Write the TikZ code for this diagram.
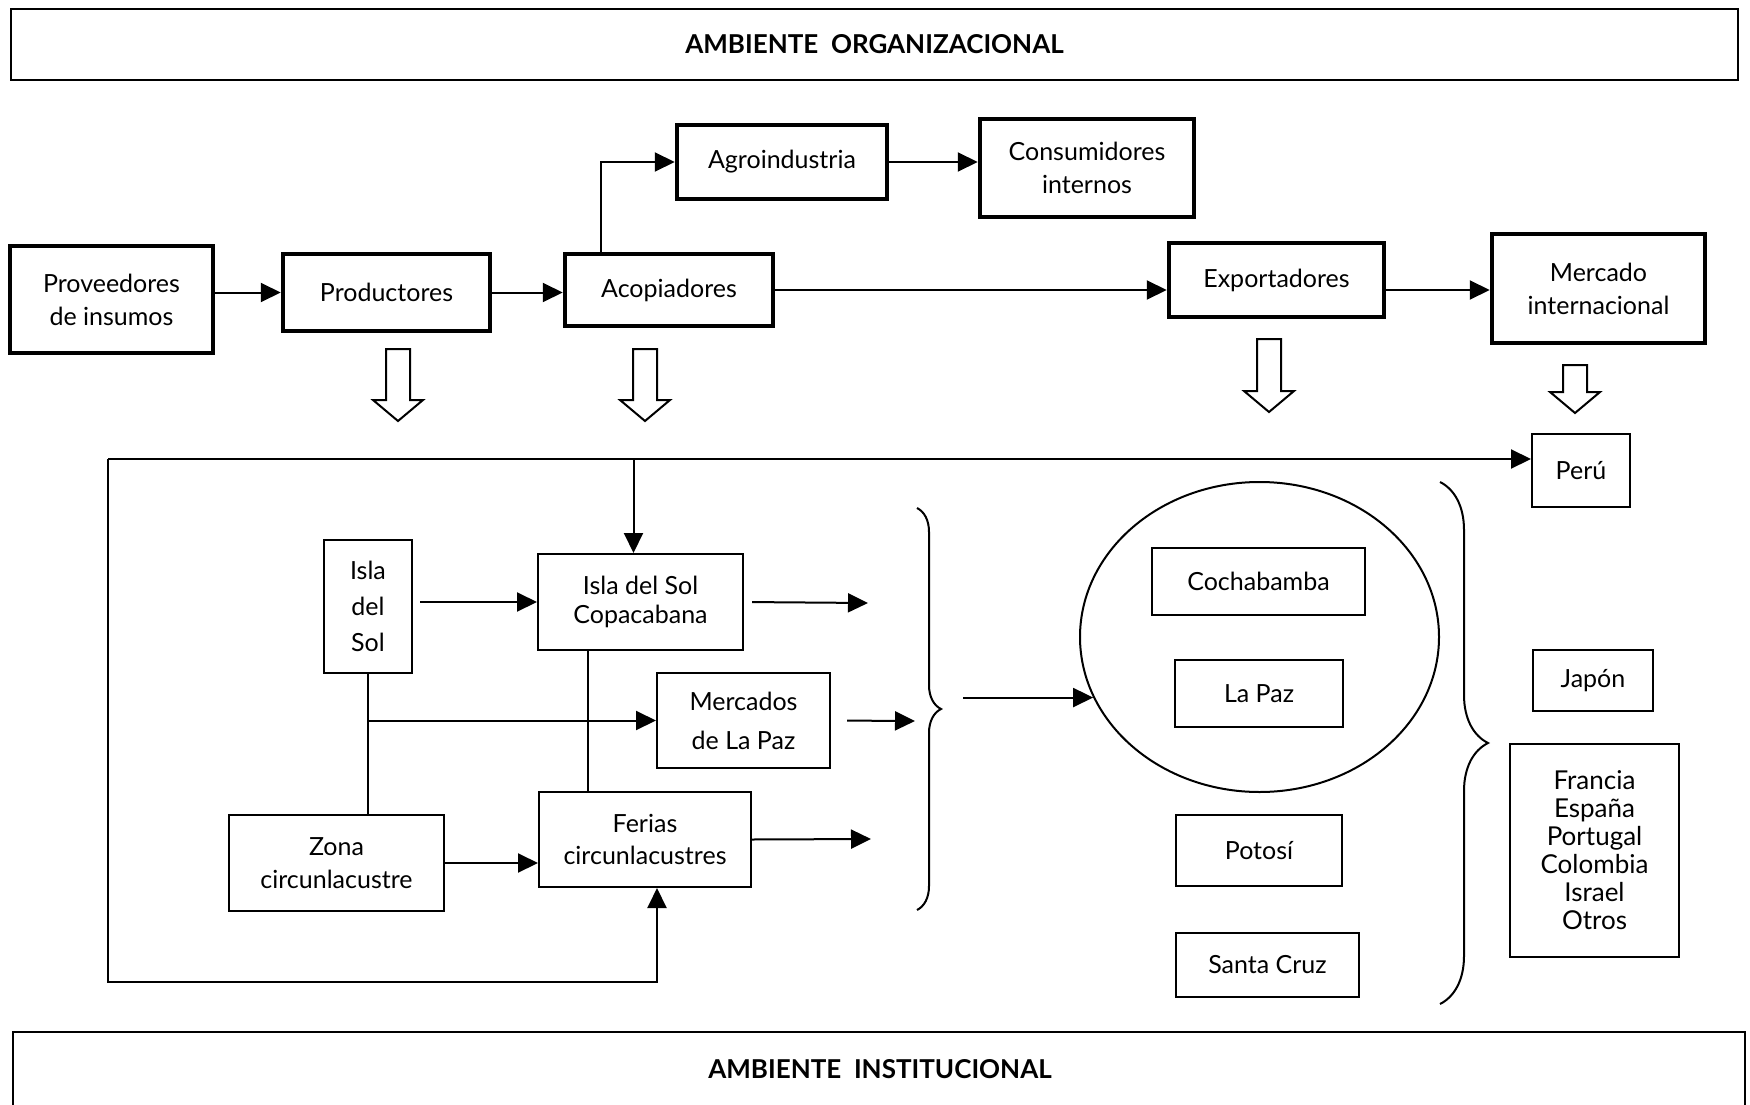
\documentclass[tikz,border=0pt]{standalone}
\usepackage{fontspec}
\setmainfont{Lato}
\usetikzlibrary{arrows.meta,shapes.geometric,decorations.pathreplacing}
\newcommand\hollowdown[3]{%
  \draw[hollow] (#1-12,#2) -- (#1+12,#2) -- (#1+12,#3-21) -- (#1+25,#3-21)
    -- (#1,#3) -- (#1-25,#3-21) -- (#1-12,#3-21) -- cycle;}
\begin{document}
\begin{tikzpicture}[x=1pt,y=-1pt,
  txt/.style={font=\fontsize{25}{33}\selectfont, align=center, inner sep=0pt},
  bigbox/.style={txt, draw, line width=4.5pt},
  smallbox/.style={txt, draw, line width=2pt},
  envtitle/.style={font=\bfseries\fontsize{26}{30}\selectfont, inner sep=0pt},
  arr/.style={line width=2pt, -{Triangle[length=20pt,width=19pt]}},
  conn/.style={line width=2pt},
  hollow/.style={line width=2pt, fill=white, line join=miter},
  bracestyle/.style={line width=2pt, decorate, decoration={brace, amplitude=#1}}
]
\useasboundingbox (0,0) rectangle (1750,1105);

% environments
\node[draw, line width=2.5pt, minimum width=1727pt, minimum height=71pt, envtitle] (org) at (874.5,44.5) {AMBIENTE\ \ ORGANIZACIONAL};
\draw[line width=2.5pt] (13,1105) |- (1745,1032) -- (1745,1105);
\node[envtitle] (inst) at (880,1069) {AMBIENTE\ \ INSTITUCIONAL};

% top row
\node[bigbox, minimum width=203pt, minimum height=107pt] (prov) at (111.5,299.5) {Proveedores\\de insumos};
\node[bigbox, minimum width=207pt, minimum height=77pt] (prod) at (386.5,292.5) {Productores};
\node[bigbox, minimum width=208pt, minimum height=72pt] (acop) at (669,290) {Acopiadores};
\node[bigbox, minimum width=210pt, minimum height=74pt] (agro) at (782,162) {Agroindustria};
\node[bigbox, minimum width=214pt, minimum height=98pt] (cons) at (1087,168) {Consumidores\\internos};
\node[bigbox, minimum width=215pt, minimum height=74pt] (expo) at (1276.5,280) {Exportadores};
\node[bigbox, minimum width=213pt, minimum height=109pt] (merc) at (1598.5,288.5) {Mercado\\internacional};

\draw[arr] (prov.east |- prod.east) -- (prod.west);
\draw[arr] (prod.east) -- (prod.east -| acop.west);
\draw[arr] ([xshift=38pt]acop.north west) |- (agro.west);
\draw[arr] (agro.east) -- (agro.east -| cons.west);
\draw[arr] (acop.east) -- (acop.east -| expo.west);
\draw[arr] (expo.east |- acop.east) -- (merc.west |- acop.east);

% hollow arrows
\hollowdown{398}{349}{421}
\hollowdown{645}{349}{421}
\hollowdown{1269}{339}{412}
\hollowdown{1575}{365}{413}

% lower part
\node[smallbox, minimum width=98pt, minimum height=73pt] (peru) at (1581,470.5) {Perú};
\node[smallbox, minimum width=88pt, minimum height=133pt, font=\fontsize{25}{36}\selectfont] (isla) at (368,606.5) {Isla\\del\\Sol};
\node[smallbox, minimum width=205pt, minimum height=96pt, font=\fontsize{25}{29}\selectfont] (copa) at (640.5,602) {Isla del Sol\\Copacabana};
\node[smallbox, minimum width=173pt, minimum height=95pt, font=\fontsize{25}{39}\selectfont] (merc2) at (743.5,720.5) {Mercados\\de La Paz};
\node[smallbox, minimum width=215pt, minimum height=96pt] (zona) at (336.5,863) {Zona\\circunlacustre};
\node[smallbox, minimum width=212pt, minimum height=95pt, font=\fontsize{25}{32}\selectfont] (ferias) at (645,839.5) {Ferias\\circunlacustres};

\coordinate (tl) at (108,459);
\coordinate (bl) at (108,982);
\coordinate (cpt) at ([xshift=-7pt]copa.north);
\coordinate (cps) at ([xshift=-53pt]copa.south);
\draw[arr] (tl) -- (tl -| peru.west);
\draw[arr] (tl) -- (bl) -| ([xshift=12pt]ferias.south);
\draw[arr] (tl -| cpt) -- (cpt);
\draw[conn] (cps) -- (cps |- ferias.north);
\draw[conn] (isla.south) -- (isla.south |- zona.north);
\draw[arr] (isla.south |- merc2.west) -- (merc2.west);
\draw[arr, shorten <=7pt] (isla.east |- copa.west) -- (copa.west);
\draw[arr] (zona.east) -- (zona.east -| ferias.west);

\coordinate (o1) at (868,603);
\coordinate (o2) at (915,721);
\coordinate (o3) at (871,839);
\draw[arr, shorten <=8pt] (copa.east) -- (o1);
\draw[arr, shorten <=16pt] (merc2.east) -- (o2);
\draw[arr] (ferias.east) -- (o3);

% braces
\draw[bracestyle=24pt] (917,508) -- (917,910);
\draw[bracestyle=48pt] (1440,482) -- (1440,1004);

% cities
\node[draw, ellipse, line width=2pt, minimum width=359pt, minimum height=310pt, inner sep=0pt] (ell) at (1259.5,637) {};
\coordinate (lbr) at (963,698);
\draw[arr] (lbr |- ell.200) -- (ell.200);
\node[smallbox, minimum width=213pt, minimum height=67pt] (coch) at (1258.5,581.5) {Cochabamba};
\node[smallbox, minimum width=168pt, minimum height=67pt] (lapaz) at (1259,693.5) {La Paz};
\node[smallbox, minimum width=166pt, minimum height=71pt] (potosi) at (1259,850.5) {Potosí};
\node[smallbox, minimum width=183pt, minimum height=64pt] (scruz) at (1267.5,965) {Santa Cruz};

% countries
\node[smallbox, minimum width=120pt, minimum height=61pt] (japon) at (1593,680.5) {Japón};
\node[smallbox, minimum width=169pt, minimum height=213pt, font=\fontsize{26}{28}\selectfont] (list) at (1594.5,850.5) {Francia\\España\\Portugal\\Colombia\\Israel\\Otros};
\end{tikzpicture}
\end{document}
